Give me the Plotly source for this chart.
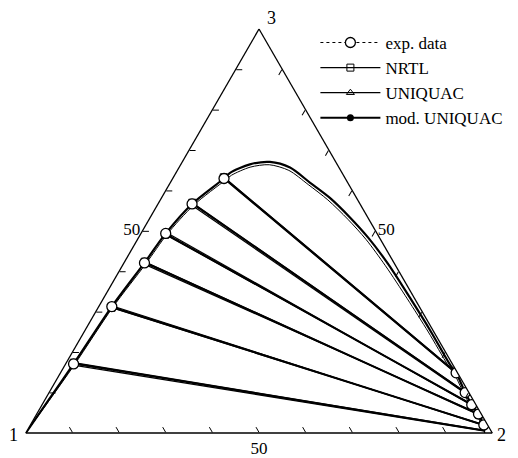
from plotly import graph_objects

# ternary data in percent: x1 (corner 1), x2 (corner 2), x3 (corner 3)
# experimental tie-line ends (phase rich in 1, phase rich in 2)
exp_left_x3 = [17.1, 31.3, 42.1, 49.4, 56.7, 63.0]
exp_left_x2 = [1.7, 2.8, 4.4, 5.3, 7.3, 11.0]
exp_right_x3 = [0.4, 2.0, 4.7, 7.0, 10.0, 14.9]
exp_right_x2 = [99.2, 97.2, 94.7, 92.1, 89.2, 84.8]

# calculated tie-line ends
nrtl_left_x3 = [17.4, 31.0, 42.4, 49.1, 57.0, 63.3]
nrtl_left_x2 = [1.6, 2.9, 4.3, 5.4, 7.2, 10.8]
nrtl_right_x3 = [0.5, 2.1, 4.5, 7.2, 10.2, 15.2]
nrtl_right_x2 = [99.1, 97.0, 94.9, 91.9, 89.0, 84.5]

uniquac_left_x3 = [16.8, 31.5, 41.8, 49.7, 56.4, 62.8]
uniquac_left_x2 = [1.8, 2.7, 4.5, 5.2, 7.4, 11.2]
uniquac_right_x3 = [0.3, 1.8, 4.9, 6.8, 9.7, 14.6]
uniquac_right_x2 = [99.3, 97.4, 94.5, 92.3, 89.5, 85.1]

mod_left_x3 = [17.2, 31.2, 42.2, 49.3, 56.8, 63.1]
mod_left_x2 = [1.7, 2.8, 4.4, 5.3, 7.3, 11.0]
mod_right_x3 = [0.4, 2.0, 4.6, 7.1, 10.1, 15.0]
mod_right_x2 = [99.2, 97.1, 94.8, 92.0, 89.1, 84.7]

# binodal curves (corner 1 -> top -> corner 2)
binodal_x3 = [0.0, 8.0, 17.1, 31.3, 42.1, 49.4, 56.7, 63.0, 64.4, 66.5, 67.1,
              65.7, 62.0, 58.2, 53.3, 48.3, 41.8, 33.5, 25.2, 17.0, 14.9, 10.0,
              7.0, 4.7, 2.0, 0.4, 0.0]
binodal_x2 = [0.0, 0.8, 1.7, 2.8, 4.4, 5.3, 7.3, 11.0, 11.6, 14.8, 18.8,
              23.8, 29.9, 36.1, 42.9, 49.3, 56.8, 65.6, 74.2, 82.4, 84.8, 89.2,
              92.1, 94.7, 97.2, 99.2, 100.0]
binodal2_x3 = [0.0, 8.0, 17.0, 31.1, 41.9, 49.2, 56.4, 62.6, 63.8, 65.8, 66.4,
               65.0, 61.5, 57.7, 52.9, 47.9, 41.4, 33.2, 25.0, 16.9, 14.8, 9.9,
               6.9, 4.6, 1.9, 0.4, 0.0]
binodal2_x2 = [0.0, 1.0, 2.0, 3.1, 4.8, 5.7, 7.8, 11.5, 12.2, 15.2, 19.0,
               23.9, 29.8, 35.9, 42.6, 49.0, 56.4, 65.2, 73.8, 82.0, 84.4, 88.9,
               91.8, 94.4, 96.9, 99.0, 100.0]

corner_labels = ["1", "2", "3"]


def tie_lines(left_x3, left_x2, right_x3, right_x2):
    a, b, c = [], [], []
    for l3, l2, r3, r2 in zip(left_x3, left_x2, right_x3, right_x2):
        a += [l3, r3, None]
        c += [l2, r2, None]
        b += [100 - l3 - l2, 100 - r3 - r2, None]
    return a, b, c


serif = "Liberation Serif, Times New Roman, serif"
figure = graph_objects.Figure()

# binodal curves
for x3, x2, width in [(binodal2_x3, binodal2_x2, 1.0), (binodal_x3, binodal_x2, 2.2)]:
    figure.add_trace(graph_objects.Scatterternary(
        a=x3, c=x2, b=[100 - p - q for p, q in zip(x3, x2)],
        mode="lines", line=dict(color="black", width=width, shape="spline", smoothing=0.8),
        showlegend=False, hoverinfo="skip"
    ))

models = [
    ("mod. UNIQUAC", mod_left_x3, mod_left_x2, mod_right_x3, mod_right_x2,
     dict(symbol="circle", size=7, color="black"), 2.0),
    ("UNIQUAC", uniquac_left_x3, uniquac_left_x2, uniquac_right_x3, uniquac_right_x2,
     dict(symbol="triangle-up-open", size=7, color="black"), 1.2),
    ("NRTL", nrtl_left_x3, nrtl_left_x2, nrtl_right_x3, nrtl_right_x2,
     dict(symbol="square-open", size=7, color="black"), 1.2),
]
for name, l3, l2, r3, r2, marker, width in models:
    a, b, c = tie_lines(l3, l2, r3, r2)
    figure.add_trace(graph_objects.Scatterternary(
        a=a, b=b, c=c, name=name, mode="lines+markers",
        line=dict(color="black", width=width), marker=marker
    ))

a, b, c = tie_lines(exp_left_x3, exp_left_x2, exp_right_x3, exp_right_x2)
figure.add_trace(graph_objects.Scatterternary(
    a=a, b=b, c=c, name="exp. data", mode="lines+markers",
    line=dict(color="black", width=1, dash="dot"),
    marker=dict(symbol="circle", size=10, color="white",
                line=dict(color="black", width=1.3))
))

tick_vals = [10, 20, 30, 40, 50, 60, 70, 80, 90]
tick_text = ["", "", "", "", "50", "", "", "", ""]
axis = dict(
    min=0, linecolor="black", linewidth=1.3, showgrid=False,
    ticks="inside", ticklen=6, tickcolor="black", tickwidth=1,
    tickvals=tick_vals, ticktext=tick_text, title=dict(text=""),
    tickfont=dict(family=serif, size=17, color="black"),
)
label_font = dict(family=serif, size=18, color="black")
figure.update_layout(
    width=518, height=458,
    margin=dict(l=16, r=32, t=21, b=33),
    paper_bgcolor="white",
    ternary=dict(sum=100, bgcolor="white", aaxis=axis, baxis=axis, caxis=axis),
    legend=dict(
        x=0.62, y=1.01, xanchor="left", yanchor="top",
        traceorder="reversed", bgcolor="rgba(0,0,0,0)",
        font=dict(family=serif, size=17, color="black"),
        itemwidth=60, tracegroupgap=0,
    ),
    font=dict(family=serif, color="black"),
    annotations=[
        dict(text=corner_labels[0], x=-0.022, y=-0.004, xref="paper", yref="paper",
             showarrow=False, font=label_font, xanchor="center", yanchor="middle"),
        dict(text=corner_labels[1], x=1.016, y=-0.004, xref="paper", yref="paper",
             showarrow=False, font=label_font, xanchor="center", yanchor="middle"),
        dict(text=corner_labels[2], x=0.526, y=1.028, xref="paper", yref="paper",
             showarrow=False, font=label_font, xanchor="center", yanchor="middle"),
    ],
)
figure.write_html("out.html")
